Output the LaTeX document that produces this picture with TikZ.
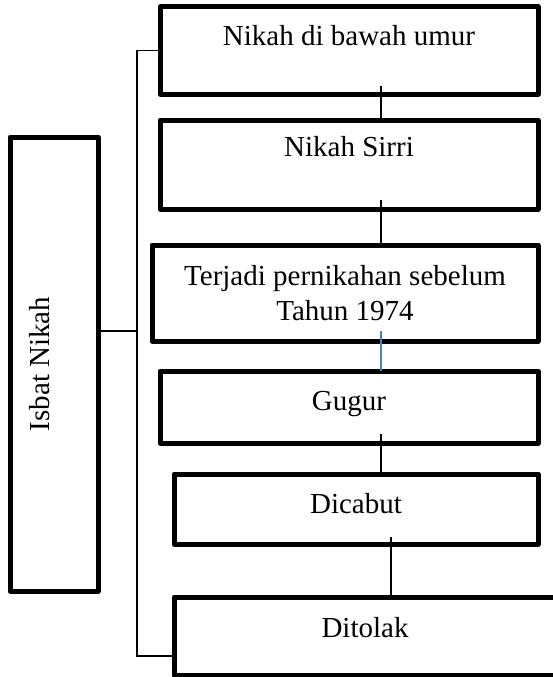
\documentclass[tikz,border=0pt]{standalone}
\usepackage{fontspec}
\setmainfont{Liberation Serif}
\definecolor{garisbiru}{RGB}{74,126,197}

\begin{document}
\begin{tikzpicture}[x=1pt, y=-1pt,
  kotak/.style={draw, line width=5pt, line join=round, outer sep=0pt, inner sep=0pt},
  teks/.style={font=\fontsize{29}{35.5}\selectfont, align=center, inner sep=0pt},
  garis/.style={line width=1.2pt}]
  \useasboundingbox (0,0) rectangle (552,677);
  % kotak kiri
  \node [kotak, minimum width=88pt, minimum height=454pt] (isbat) at (54,364) {};
  \node [teks, rotate=90] (isbatteks) at (40,364) {Isbat Nikah};
  % kotak kanan
  \node [kotak, minimum width=378pt, minimum height=87pt] (nikah) at (349,50.5) {};
  \node [kotak, minimum width=378pt, minimum height=89pt] (sirri) at (349,164.5) {};
  \node [kotak, minimum width=386pt, minimum height=96pt] (terjadi) at (345,293) {};
  \node [kotak, minimum width=378pt, minimum height=72pt] (gugur) at (349,407) {};
  \node [kotak, minimum width=364pt, minimum height=70pt] (dicabut) at (356,509) {};
  \node [kotak, minimum width=382pt, minimum height=78pt] (ditolak) at (365,636) {};
  \node [teks] (nikahteks) at (349,35.8) {Nikah di bawah umur};
  \node [teks] (sirriteks) at (349,146.8) {Nikah Sirri};
  \node [teks] (terjaditeks) at (345,293) {Terjadi pernikahan sebelum\\Tahun 1974};
  \node [teks] (gugurteks) at (349,404.3) {Gugur};
  \node [teks] (dicabutteks) at (356,503.8) {Dicabut};
  \node [teks] (ditolakteks) at (365,627.1) {Ditolak};
  % kurung
  \coordinate (atas) at (137,50.5);
  \coordinate (cabang) at (137,331);
  \coordinate (bawah) at (137,656);
  \draw [garis] (nikah.west) -- (atas) -- (bawah) -- (bawah -| ditolak.west);
  \draw [garis] (isbat.east |- cabang) -- (cabang);
  % garis antar kotak
  \draw [garis] ([xshift=32pt, yshift=8pt]nikah.south) -- ([xshift=32pt]nikah.south |- sirri.north);
  \draw [garis] ([xshift=32pt, yshift=9pt]sirri.south) -- ([xshift=32pt]sirri.south |- terjadi.north);
  \draw [line width=1.8pt, garisbiru] ([xshift=36pt, yshift=10pt]terjadi.south) -- ([xshift=36pt]terjadi.south |- gugur.north);
  \draw [garis] ([xshift=32pt, yshift=9pt]gugur.south) -- ([xshift=32pt]gugur.south |- dicabut.north);
  \draw [garis] ([xshift=35pt, yshift=7pt]dicabut.south) -- ([xshift=35pt]dicabut.south |- ditolak.north);
\end{tikzpicture}
\end{document}
